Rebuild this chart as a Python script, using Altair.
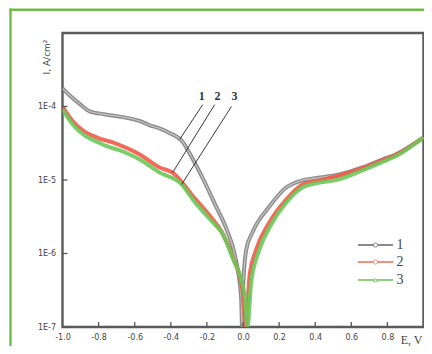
import altair as alt
import pandas as pd

# ---- data (E in V, current density in A/cm^2) ----
E1 = [-1.00, -0.96, -0.90, -0.85, -0.76, -0.57, -0.52, -0.46, -0.41, -0.33, -0.30, -0.22,
      -0.15, -0.09, -0.04, -0.01, -0.005, 0.0, 0.018, 0.052, 0.146, 0.239, 0.312, 0.423,
      0.533, 0.661, 0.771, 0.846, 1.0]
I1 = [1.76e-4, 1.41e-4, 1.06e-4, 8.6e-5, 7.8e-5, 6.3e-5, 5.6e-5, 5.0e-5, 4.4e-5, 3.2e-5, 2.4e-5, 1.02e-5,
      4.4e-6, 2.1e-6, 8.3e-7, 2.4e-7, 1e-7, 3.2e-7, 1.13e-6, 1.93e-6, 4.35e-6, 7.9e-6, 9.6e-6, 1.08e-5,
      1.19e-5, 1.48e-5, 1.9e-5, 2.22e-5, 3.8e-5]

E2 = [-1.0, -0.943, -0.812, -0.722, -0.572, -0.461, -0.388, -0.277, -0.167, -0.119, -0.058, -0.003,
      0.015, 0.036, 0.073, 0.146, 0.239, 0.329, 0.423, 0.533, 0.661, 0.771, 0.846, 1.0]
I2 = [1.0e-4, 6.3e-5, 3.8e-5, 3.24e-5, 2.22e-5, 1.48e-5, 1.25e-5, 6.0e-6, 2.9e-6, 2.0e-6, 9.1e-7, 3.2e-7,
      1e-7, 4.9e-7, 1.13e-6, 2.64e-6, 5.4e-6, 8.7e-6, 9.9e-6, 1.15e-5, 1.45e-5, 1.85e-5, 2.2e-5, 3.8e-5]

E3 = [-1.0, -0.943, -0.777, -0.666, -0.572, -0.461, -0.34, -0.277, -0.167, -0.119, -0.058, 0.008,
      0.025, 0.045, 0.091, 0.163, 0.239, 0.329, 0.423, 0.533, 0.661, 0.771, 0.846, 1.0]
I3 = [9.1e-5, 5.7e-5, 3.04e-5, 2.44e-5, 1.9e-5, 1.26e-5, 8.7e-6, 5.4e-6, 2.64e-6, 1.95e-6, 8.8e-7, 2.8e-7,
      1e-7, 4.0e-7, 1.13e-6, 2.64e-6, 4.9e-6, 7.9e-6, 9.2e-6, 1.02e-5, 1.35e-5, 1.75e-5, 2.1e-5, 3.8e-5]

series_names = ["1", "2", "3"]
series_colors = ["#808080", "#f05a48", "#6cc85a"]
legend_colors = ["#8a8a8a", "#f29080", "#8fd080"]

x_tick_values = [-1.0, -0.8, -0.6, -0.4, -0.2, 0.0, 0.2, 0.4, 0.6, 0.8]
x_inner_ticks = [-0.8, -0.6, -0.4, -0.2, 0.0, 0.2, 0.4, 0.6, 0.8]
y_tick_values = [1e-7, 1e-6, 1e-5, 1e-4]
y_inner_ticks = [1e-6, 1e-5, 1e-4]

# leader lines "1 2 3" (label position -> curve)
lead_label = ["1", "2", "3"]
lead_E_top = [-0.223, -0.157, -0.064]
lead_I_top = [1.06e-4, 1.06e-4, 1.0e-4]
lead_E_end = [-0.351, -0.39, -0.340]
lead_I_end = [3.56e-5, 1.26e-5, 8.7e-6]
lead_E_txt = [-0.229, -0.141, -0.047]
lead_I_txt = [1.37e-4, 1.37e-4, 1.37e-4]

W, H = 361, 294

xs = alt.Scale(domain=[-1.0, 1.0], nice=False, zero=False)
ys = alt.Scale(type="log", domain=[1e-7, 1e-3], nice=False)

xaxis = alt.Axis(values=x_tick_values, title=None, ticks=False, domain=False, grid=False,
                 labelExpr="replace(format(datum.value, '.1f'), '\u2212', '-')",
                 labelFont="DejaVu Sans", labelFontSize=8, labelColor="#444",
                 labelPadding=6, labelFlush=False, labelOverlap=False, labelBound=False)
yaxis = alt.Axis(values=y_tick_values, title=None, ticks=False, domain=False, grid=False,
                 labelExpr="'1E-' + round(-log(datum.value)/LN10)",
                 labelFont="DejaVu Sans", labelFontSize=8, labelColor="#444",
                 labelPadding=7, labelFlush=False, labelOverlap=False, labelBound=False)

one = pd.DataFrame({"a": [0]})

# green frame of the figure (top and left edges only; the rest lies outside the picture)
border_top = alt.Chart(one).mark_rule(color="#6fbe44", strokeWidth=2.4).encode(
    x=alt.value(-53), x2=alt.value(W + 0.5), y=alt.value(-23.3))
border_left = alt.Chart(one).mark_rule(color="#6fbe44", strokeWidth=2.4).encode(
    x=alt.value(-52), y=alt.value(-24.5), y2=alt.value(H + 19))

layers = [border_top, border_left]
for name, E, I, col in zip(series_names, [E1, E2, E3], [I1, I2, I3], series_colors):
    d = pd.DataFrame({"E": E, "I": I})
    ln = alt.Chart(d).mark_line(color=col, strokeWidth=4, interpolate="monotone", clip=True,
                                opacity=0.9).encode(
        x=alt.X("E:Q", scale=xs, axis=xaxis),
        y=alt.Y("I:Q", scale=ys, axis=yaxis))
    layers.append(ln)
    if name == "1":
        layers.append(alt.Chart(d).mark_line(color="#c4c4c4", strokeWidth=1.2, interpolate="monotone",
                                             clip=True).encode(
            x=alt.X("E:Q", scale=xs, axis=xaxis), y=alt.Y("I:Q", scale=ys, axis=yaxis)))

xt = alt.Chart(pd.DataFrame({"E": x_inner_ticks})).mark_rule(color="#555", strokeWidth=1.3).encode(
    x=alt.X("E:Q", scale=xs, axis=xaxis), y=alt.value(H), y2=alt.value(H - 5))
yt = alt.Chart(pd.DataFrame({"I": y_inner_ticks})).mark_rule(color="#555", strokeWidth=1.3).encode(
    y=alt.Y("I:Q", scale=ys, axis=yaxis), x=alt.value(0), x2=alt.value(5))

lead = pd.DataFrame({"lab": lead_label, "E": lead_E_top, "I": lead_I_top, "E2": lead_E_end,
                     "I2": lead_I_end, "Et": lead_E_txt, "It": lead_I_txt})
leaders = alt.Chart(lead).mark_rule(color="#222", strokeWidth=0.9).encode(
    x=alt.X("E:Q", scale=xs, axis=xaxis), y=alt.Y("I:Q", scale=ys, axis=yaxis), x2="E2:Q", y2="I2:Q")
lead_txt = alt.Chart(lead).mark_text(font="Liberation Serif", fontSize=12, fontWeight="bold",
                                     color="#333", baseline="middle").encode(
    x=alt.X("Et:Q", scale=xs, axis=xaxis), y=alt.Y("It:Q", scale=ys, axis=yaxis), text="lab:N")

ytitle = alt.Chart(one).mark_text(text="I, A/cm\u00b2", angle=270, font="DejaVu Sans", fontSize=9,
                                  color="#444", baseline="middle", align="center").encode(
    x=alt.value(-15.5), y=alt.value(24))
xtitle = alt.Chart(one).mark_text(text="E, V", font="Liberation Serif", fontSize=12, color="#444",
                                  baseline="middle", align="right").encode(
    x=alt.value(W - 1), y=alt.value(307))
layers += [xt, yt, leaders, lead_txt, ytitle, xtitle]

leg_y = [212, 229, 247]
for name, col, yy, k in zip(series_names, legend_colors, leg_y, range(3)):
    layers.append(alt.Chart(one).mark_rule(color=col, strokeWidth=2.2).encode(
        x=alt.value(295.5), x2=alt.value(330.5), y=alt.value(yy)))
    layers.append(alt.Chart(one).mark_point(shape="triangle-up" if k == 2 else "circle",
                                            size=18, filled=True, fill="white", stroke=col,
                                            strokeWidth=1, opacity=1).encode(
        x=alt.value(313), y=alt.value(yy)))
    layers.append(alt.Chart(one).mark_text(text=name, font="Liberation Serif", fontSize=14,
                                           color="#444", align="left", baseline="middle").encode(
        x=alt.value(334), y=alt.value(yy)))

chart = alt.layer(*layers).properties(
    width=W, height=H,
    autosize=alt.AutoSizeParams(type="none"),
    padding={"left": 54.5, "top": 25, "right": 0.5, "bottom": 18.5},
).configure_view(stroke="#5a5a5a", strokeWidth=2.4)

chart.save("out.html", embed_options={"renderer": "svg", "actions": False})
